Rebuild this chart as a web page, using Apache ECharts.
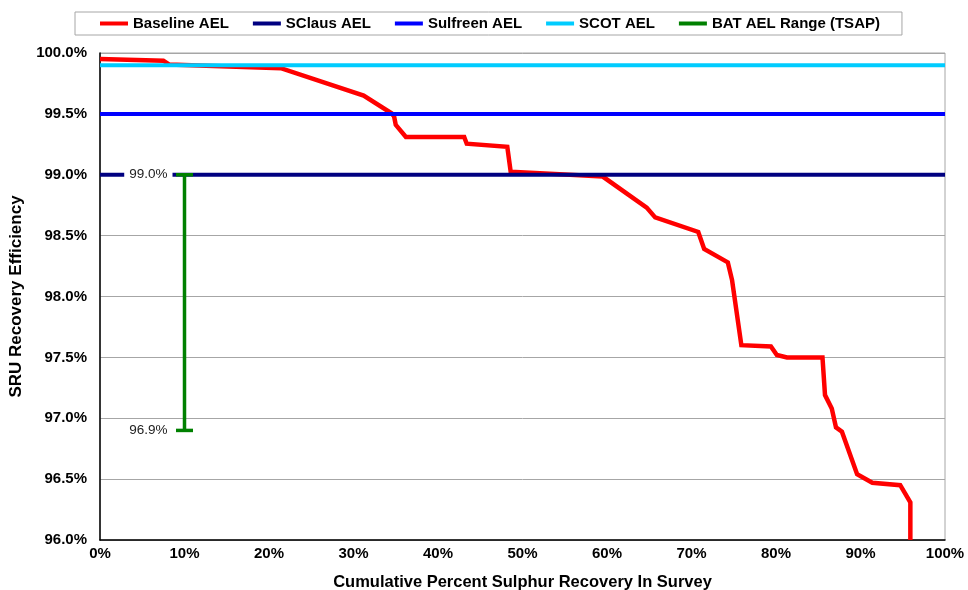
<!DOCTYPE html>
<html>
<head>
<meta charset="utf-8">
<script src="https://cdn.jsdelivr.net/npm/echarts@6/dist/echarts.min.js"></script>
<style>html,body{margin:0;padding:0;background:#fff}#c{width:968px;height:590px}</style>
</head>
<body>
<div id="c"></div>
<script>
// Baseline AEL curve (x: cumulative %, y: efficiency %)
const baselineX = [0, 7.5, 8.2, 21.4, 31.2, 34.5, 34.8, 35.0, 36.2, 43.1, 43.4, 48.2, 48.6, 59.5, 64.7, 65.7, 70.8, 71.5, 74.3, 74.8, 75.9, 79.4, 80.1, 81.3, 85.5, 85.8, 86.6, 87.1, 87.8, 89.6, 91.4, 94.7, 95.9, 95.9];
const baselineY = [99.95, 99.937, 99.905, 99.875, 99.65, 99.505, 99.48, 99.41, 99.31, 99.31, 99.255, 99.23, 99.025, 98.985, 98.73, 98.65, 98.53, 98.39, 98.28, 98.135, 97.60, 97.59, 97.52, 97.50, 97.50, 97.19, 97.08, 96.925, 96.89, 96.54, 96.47, 96.45, 96.31, 96.0];
const sclausAEL = 99.0;
const sulfreenAEL = 99.5;
const scotAEL = 99.9;
const batRangeX = 10;
const batRangeHigh = 99.0;
const batRangeLow = 96.9;
const xTicks = [0, 100, 10];      // min, max, interval (%)
const yTicks = [96, 100, 0.5];    // min, max, interval (%)
const seriesNames = ['Baseline AEL', 'SClaus AEL', 'Sulfreen AEL', 'SCOT AEL', 'BAT AEL Range (TSAP)'];

const baselineData = baselineX.map((x, i) => [x, baselineY[i]]);
const flat = v => [[xTicks[0], v], [xTicks[1], v]];

const chart = echarts.init(document.getElementById('c'), null, {renderer: 'canvas'});
const FONT = 'Liberation Sans, Arial, sans-serif';

chart.setOption({
  animation: false,
  backgroundColor: '#fff',
  textStyle: {fontFamily: FONT},
  legend: {
    left: 75, top: 12,
    padding: [4, 22, 4, 25],
    borderColor: '#a6a6a6', borderWidth: 1,
    itemWidth: 28, itemHeight: 4, itemGap: 24,
    icon: 'rect',
    textStyle: {fontFamily: FONT, fontWeight: 'bold', fontSize: 15, color: '#000'},
    data: seriesNames
  },
  grid: {
    left: 100, right: 23, top: 53, bottom: 50,
    outerBoundsMode: 'none',
    containLabel: false,
    show: true, borderColor: '#a6a6a6', borderWidth: 1
  },
  xAxis: {
    type: 'value', min: xTicks[0], max: xTicks[1], interval: xTicks[2],
    name: 'Cumulative Percent Sulphur Recovery In Survey',
    nameLocation: 'middle', nameGap: 34,
    nameTextStyle: {fontFamily: FONT, fontWeight: 'bold', fontSize: 16.5, color: '#000'},
    axisLine: {lineStyle: {color: '#000', width: 1.5}},
    axisTick: {show: false},
    splitLine: {show: false},
    axisLabel: {formatter: v => v + '%', fontWeight: 'bold', fontSize: 15, color: '#000', margin: 6, fontFamily: FONT}
  },
  yAxis: {
    type: 'value', min: yTicks[0], max: yTicks[1], interval: yTicks[2],
    name: 'SRU Recovery Efficiency',
    nameLocation: 'middle', nameGap: 65,
    nameTextStyle: {fontFamily: FONT, fontWeight: 'bold', fontSize: 17, color: '#000'},
    axisLine: {show: true, lineStyle: {color: '#000', width: 1.5}},
    axisTick: {show: false},
    splitLine: {lineStyle: {color: '#a6a6a6', width: 1}},
    axisLabel: {formatter: v => v.toFixed(1) + '%', fontWeight: 'bold', fontSize: 15, color: '#000', margin: 13, fontFamily: FONT}
  },
  series: [
    {
      name: seriesNames[0], type: 'line', data: baselineData, symbol: 'none',
      color: '#ff0000', lineStyle: {color: '#ff0000', width: 4.5, join: 'miter'}, z: 2
    },
    {
      name: seriesNames[1], type: 'line', data: flat(sclausAEL), symbol: 'none',
      color: '#000080', lineStyle: {color: '#000080', width: 4}, z: 3
    },
    {
      name: seriesNames[2], type: 'line', data: flat(sulfreenAEL), symbol: 'none',
      color: '#0000ff', lineStyle: {color: '#0000ff', width: 4}, z: 3
    },
    {
      name: seriesNames[3], type: 'line', data: flat(scotAEL), symbol: 'none',
      color: '#00ccff', lineStyle: {color: '#00ccff', width: 4}, z: 3
    },
    {
      name: seriesNames[4], type: 'custom', color: '#008000', z: 5,
      data: [[batRangeX, batRangeHigh, batRangeLow]],
      encode: {x: 0, y: [1, 2]},
      renderItem: function (params, api) {
        const top = api.coord([api.value(0), api.value(1)]);
        const bot = api.coord([api.value(0), api.value(2)]);
        const capHalf = 8.5;
        const st = {stroke: '#008000', lineWidth: 3.5};
        const lbl = (p, v) => ({
          type: 'text',
          style: {
            x: p[0] - 12, y: p[1], text: v.toFixed(1) + '%',
            align: 'right', verticalAlign: 'middle',
            fontFamily: FONT, fontSize: 13.5, fill: '#222',
            backgroundColor: '#fff', padding: [2, 5, 1, 5]
          }
        });
        return {
          type: 'group',
          children: [
            {type: 'line', shape: {x1: top[0], y1: top[1], x2: bot[0], y2: bot[1]}, style: st},
            {type: 'line', shape: {x1: top[0] - capHalf, y1: top[1], x2: top[0] + capHalf, y2: top[1]}, style: st},
            {type: 'line', shape: {x1: bot[0] - capHalf, y1: bot[1], x2: bot[0] + capHalf, y2: bot[1]}, style: st},
            lbl(top, api.value(1)),
            lbl(bot, api.value(2))
          ]
        };
      }
    }
  ]
});
</script>
</body>
</html>
